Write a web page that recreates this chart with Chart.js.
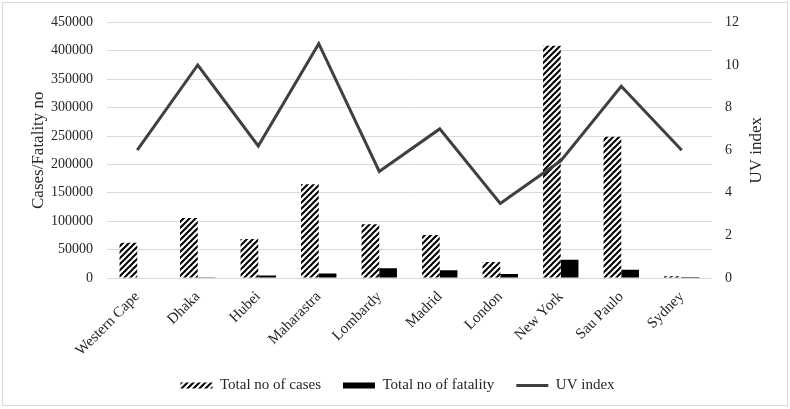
<!DOCTYPE html>
<html>
<head>
<meta charset="utf-8">
<script src="https://cdn.jsdelivr.net/npm/chart.js@4"></script>
<style>
  html, body { margin: 0; padding: 0; background: #fff; }
  #wrap { position: relative; width: 790px; height: 409px; }
</style>
</head>
<body>
<div id="wrap"><canvas id="chart" width="790" height="409"></canvas></div>
<script>
// data
const regions = ['Western Cape', 'Dhaka', 'Hubei', 'Maharastra', 'Lombardy', 'Madrid', 'London', 'New York', 'Sau Paulo', 'Sydney'];
const totalCases = [62000, 105500, 68500, 165000, 94500, 75500, 28000, 409000, 248500, 3200];
const totalFatality = [700, 600, 4500, 8000, 17000, 13500, 7000, 32000, 14500, 80];
const uvIndex = [6, 10, 6.2, 11, 5, 7, 3.5, 5.5, 9, 6];
const leftTicks = [0, 450000, 50000];   // min, max, step
const rightTicks = [0, 12, 2];

const FONT = "'Liberation Serif', 'Times New Roman', serif";
const TEXT = '#262626';

// hatch pattern for total cases
function hatch() {
  const c = document.createElement('canvas');
  c.width = 6; c.height = 6;
  const g = c.getContext('2d');
  g.fillStyle = '#fff';
  g.fillRect(0, 0, 6, 6);
  g.strokeStyle = '#000';
  g.lineWidth = 2;
  g.beginPath();
  g.moveTo(0, 6); g.lineTo(6, 0);
  g.moveTo(-1, 1); g.lineTo(1, -1);
  g.moveTo(5, 7); g.lineTo(7, 5);
  g.stroke();
  return g.createPattern(c, 'repeat');
}

// white background, light frame, and the right axis title reading upwards
const frame = {
  id: 'frame',
  beforeDraw(chart) {
    const ctx = chart.ctx;
    ctx.save();
    ctx.fillStyle = '#fff';
    ctx.fillRect(0, 0, chart.width, chart.height);
    ctx.strokeStyle = '#d9d9d9';
    ctx.lineWidth = 1;
    ctx.strokeRect(2.5, 2.5, chart.width - 5, chart.height - 6);
    ctx.restore();
  },
  afterDraw(chart) {
    const ctx = chart.ctx;
    const area = chart.chartArea;
    ctx.save();
    ctx.translate(757, (area.top + area.bottom) / 2);
    ctx.rotate(-Math.PI / 2);
    ctx.fillStyle = TEXT;
    ctx.font = '17px ' + FONT;
    ctx.textAlign = 'center';
    ctx.textBaseline = 'middle';
    ctx.fillText('UV index', 0, 0);
    ctx.restore();
  }
};

const ctx = document.getElementById('chart').getContext('2d');
new Chart(ctx, {
  type: 'bar',
  data: {
    labels: regions,
    datasets: [
      {
        type: 'line', label: 'UV index', data: uvIndex, yAxisID: 'y2',
        borderColor: '#404040', backgroundColor: '#404040', borderWidth: 3,
        pointRadius: 0, tension: 0, pointStyle: 'line', order: 0
      },
      {
        label: 'Total no of cases', data: totalCases, yAxisID: 'y',
        backgroundColor: hatch(), borderWidth: 0, pointStyle: 'rect', order: 1
      },
      {
        label: 'Total no of fatality', data: totalFatality, yAxisID: 'y',
        backgroundColor: '#000', borderWidth: 0, pointStyle: 'rect', order: 2
      }
    ]
  },
  options: {
    responsive: false, animation: false,
    layout: { padding: { top: 19, bottom: 6, left: 5 } },
    datasets: { bar: { barPercentage: 1, categoryPercentage: 0.585 } },
    plugins: {
      tooltip: { enabled: false },
      legend: {
        position: 'bottom',
        labels: {
          usePointStyle: true, pointStyleWidth: 32, boxHeight: 6,
          color: TEXT, font: { family: FONT, size: 15 }, padding: 22,
          sort: (a, b) => {
            const rank = { 'Total no of cases': 0, 'Total no of fatality': 1, 'UV index': 2 };
            return rank[a.text] - rank[b.text];
          }
        }
      }
    },
    scales: {
      x: {
        grid: { display: false }, border: { display: false },
        ticks: { color: TEXT, font: { family: FONT, size: 15 }, minRotation: 45, maxRotation: 45, padding: 2 },
        afterFit: s => { s.height = 78; }
      },
      y: {
        position: 'left', min: leftTicks[0], max: leftTicks[1],
        grid: { color: '#d9d9d9', lineWidth: 1, drawTicks: false },
        border: { display: false },
        ticks: { stepSize: leftTicks[2], color: TEXT, font: { family: FONT, size: 14 }, padding: 14, callback: v => String(v) },
        title: { display: true, text: 'Cases/Fatality no', color: TEXT, font: { family: FONT, size: 17 }, padding: { top: 23, bottom: 0 } },
        afterFit: s => { s.width = 102; }
      },
      y2: {
        position: 'right', min: rightTicks[0], max: rightTicks[1],
        grid: { display: false, drawTicks: false }, border: { display: false },
        ticks: { stepSize: rightTicks[2], color: TEXT, font: { family: FONT, size: 14 }, padding: 13, callback: v => String(v) },
        afterFit: s => { s.width = 78; }
      }
    }
  },
  plugins: [frame]
});
</script>
</body>
</html>
